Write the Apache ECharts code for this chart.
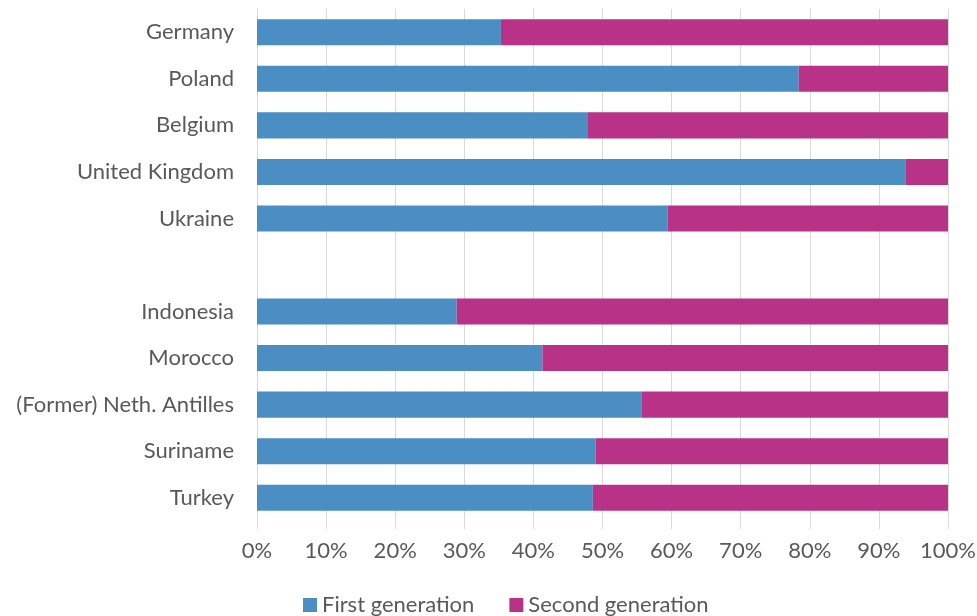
<!DOCTYPE html>
<html>
<head>
<meta charset="utf-8">
<script src="https://cdn.jsdelivr.net/npm/echarts@6/dist/echarts.min.js"></script>
<style>html,body{margin:0;padding:0;background:#fff}#c{width:977px;height:616px}</style>
</head>
<body>
<div id="c"></div>
<script>
var categories = ["Germany", "Poland", "Belgium", "United Kingdom", "Ukraine", "", "Indonesia", "Morocco", "(Former) Neth. Antilles", "Suriname", "Turkey"];
var firstGeneration = [35.3, 78.4, 47.9, 93.9, 59.4, null, 28.9, 41.3, 55.7, 49.0, 48.6];
var secondGeneration = [64.7, 21.6, 52.1, 6.1, 40.6, null, 71.1, 58.7, 44.3, 51.0, 51.4];
var xTicks = ["0%", "10%", "20%", "30%", "40%", "50%", "60%", "70%", "80%", "90%", "100%"];

var FONT = "Lato, 'Open Sans', sans-serif";
var chart = echarts.init(document.getElementById('c'), null, {renderer: 'canvas'});
chart.setOption({
  animation: false,
  textStyle: {fontFamily: FONT},
  grid: {left: 257, right: 29, top: 9, bottom: 95, containLabel: false, outerBoundsMode: 'none'},
  legend: {
    data: ['First generation', 'Second generation'],
    bottom: -5, left: 298,
    icon: 'rect', itemWidth: 14, itemHeight: 14, itemGap: 35, itemSpacing: 5,
    textStyle: {fontSize: 22, color: '#595959', fontFamily: FONT}
  },
  xAxis: {
    type: 'value', min: 0, max: 100, interval: 10,
    axisLine: {show: false},
    axisTick: {show: true, length: 8, lineStyle: {color: '#d9d9d9'}},
    splitLine: {show: true, lineStyle: {color: '#d9d9d9', width: 1}},
    axisLabel: {
      fontSize: 22, color: '#595959', margin: 19, fontFamily: FONT,
      formatter: function (v) { return xTicks[Math.round(v / 10)]; }
    }
  },
  yAxis: {
    type: 'category', data: categories, inverse: true,
    axisLine: {show: true, lineStyle: {color: '#d9d9d9'}},
    axisTick: {show: false},
    axisLabel: {fontSize: 22, color: '#595959', margin: 23, fontFamily: FONT}
  },
  series: [
    {name: 'First generation', type: 'bar', stack: 'g', data: firstGeneration, barWidth: '56%',
      itemStyle: {color: '#4a8ec4'}},
    {name: 'Second generation', type: 'bar', stack: 'g', data: secondGeneration, barWidth: '56%',
      itemStyle: {color: '#b83387'}}
  ]
});
</script>
</body>
</html>
